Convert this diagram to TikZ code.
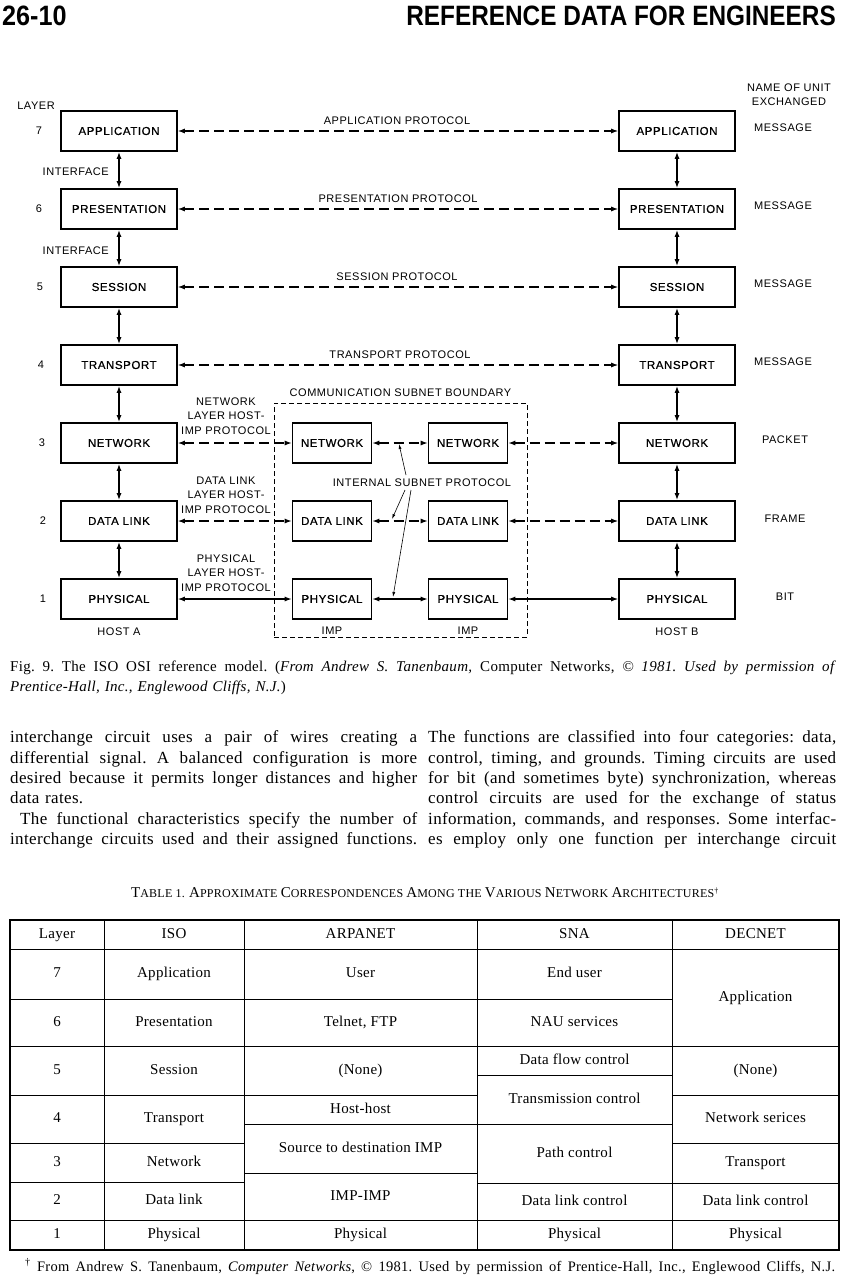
\documentclass[tikz,border=0pt]{standalone}
\usepackage{fontspec}
\setmainfont{Liberation Serif}[LetterSpace=2]
\newfontfamily\hdfont{Liberation Sans}
\newfontfamily\dgfont{Liberation Sans}[LetterSpace=5]
\newfontfamily\bxfont{Liberation Sans}[LetterSpace=5, FakeBold=0.6]
\usetikzlibrary{positioning,arrows.meta}

\newcommand{\bigc}[1]{{\fontsize{15}{15}\selectfont #1}}
\newcommand{\fullline}[2]{\makebox[#1][s]{\spaceskip=0pt\xspaceskip=0pt\frenchspacing #2}}

\begin{document}
\begin{tikzpicture}[x=1pt, y=-1pt,
  layer/.style={draw, line width=1.6pt, minimum width=116pt, minimum height=40pt, inner sep=0pt,
                font=\bxfont\fontsize{11.5}{13}\selectfont},
  imp/.style={layer, minimum width=79pt},
  lbl/.style={font=\dgfont\fontsize{11}{14.5}\selectfont, inner sep=0pt},
  proto/.style={{Latex[length=7pt,width=5pt]}-{Latex[length=7pt,width=5pt]}, line width=1.2pt,
                dash pattern=on 10pt off 5pt},
  wire/.style={{Latex[length=7pt,width=5pt]}-{Latex[length=7pt,width=5pt]}, line width=1.2pt},
  iface/.style={{Latex[length=7pt,width=5pt]}-{Latex[length=7pt,width=5pt]}, line width=1.5pt},
  ptr/.style={-{Latex[length=5pt,width=3pt]}, line width=0.6pt},
  cell/.style={font=\fontsize{15}{17}\selectfont, inner sep=0pt, text height=10pt, text depth=3pt},
  rule/.style={line width=1pt}
]
  \fill[white] (0,0) rectangle (845,1276);
  \useasboundingbox (0,0) rectangle (845,1276);

  % running head
  \node[anchor=base west, inner sep=0pt, font=\hdfont\bfseries\fontsize{28}{28}\selectfont] (pgno) at (2,26) {\scalebox{0.9}[1]{26-10}};
  \node[anchor=base east, inner sep=0pt, font=\hdfont\bfseries\fontsize{28}{28}\selectfont] (runhd) at (836,26) {\scalebox{0.87}[1]{REFERENCE DATA FOR ENGINEERS}};

  % subnet boundary
  \node[draw, line width=0.6pt, dash pattern=on 5pt off 3pt, minimum width=253pt, minimum height=234pt] (subnet) at (400.5,520) {};
  \node[lbl, above=6pt of subnet] (sublbl) {COMMUNICATION SUBNET BOUNDARY};

  % host A
  \node[layer] (hA7) at (119,131) {APPLICATION};
  \node[layer] (hA6) at (119,209) {PRESENTATION};
  \node[layer] (hA5) at (119,287) {SESSION};
  \node[layer] (hA4) at (119,365) {TRANSPORT};
  \node[layer] (hA3) at (119,443) {NETWORK};
  \node[layer] (hA2) at (119,521) {DATA LINK};
  \node[layer] (hA1) at (119,599) {PHYSICAL};
  \node[lbl, below=8pt of hA1] (hostA) {HOST A};

  % host B
  \node[layer] (hB7) at (677,131) {APPLICATION};
  \node[layer] (hB6) at (677,209) {PRESENTATION};
  \node[layer] (hB5) at (677,287) {SESSION};
  \node[layer] (hB4) at (677,365) {TRANSPORT};
  \node[layer] (hB3) at (677,443) {NETWORK};
  \node[layer] (hB2) at (677,521) {DATA LINK};
  \node[layer] (hB1) at (677,599) {PHYSICAL};
  \node[lbl, below=8pt of hB1] (hostB) {HOST B};

  % IMPs
  \node[imp] (iA3) at (332,443) {NETWORK};
  \node[imp] (iA2) at (332,521) {DATA LINK};
  \node[imp] (iA1) at (332,599) {PHYSICAL};
  \node[imp] (iB3) at (468,443) {NETWORK};
  \node[imp] (iB2) at (468,521) {DATA LINK};
  \node[imp] (iB1) at (468,599) {PHYSICAL};
  \node[lbl, below=7pt of iA1] (impA) {IMP};
  \node[lbl, below=7pt of iB1] (impB) {IMP};

  % interfaces
  \draw[iface] (hA7) -- (hA6);
  \draw[iface] (hA6) -- (hA5);
  \draw[iface] (hA5) -- (hA4);
  \draw[iface] (hA4) -- (hA3);
  \draw[iface] (hA3) -- (hA2);
  \draw[iface] (hA2) -- (hA1);
  \draw[iface] (hB7) -- (hB6);
  \draw[iface] (hB6) -- (hB5);
  \draw[iface] (hB5) -- (hB4);
  \draw[iface] (hB4) -- (hB3);
  \draw[iface] (hB3) -- (hB2);
  \draw[iface] (hB2) -- (hB1);

  % peer protocols
  \draw[proto] (hA7) -- (hB7);
  \draw[proto] (hA6) -- (hB6);
  \draw[proto] (hA5) -- (hB5);
  \draw[proto] (hA4) -- (hB4);
  \draw[proto] (hA3) -- (iA3);
  \draw[proto] (iA3) -- (iB3);
  \draw[proto] (iB3) -- (hB3);
  \draw[proto] (hA2) -- (iA2);
  \draw[proto] (iA2) -- (iB2);
  \draw[proto] (iB2) -- (hB2);
  \draw[wire] (hA1) -- (iA1);
  \draw[wire] (iA1) -- (iB1);
  \draw[wire] (iB1) -- (hB1);

  \node[lbl] (papp) at (397,121) {APPLICATION PROTOCOL};
  \node[lbl] (ppre) at (398,199) {PRESENTATION PROTOCOL};
  \node[lbl] (pses) at (397,277) {SESSION PROTOCOL};
  \node[lbl] (ptra) at (400,355) {TRANSPORT PROTOCOL};
  \node[lbl, align=center] (pnet) at (226,416) {NETWORK\\LAYER HOST-\\IMP PROTOCOL};
  \node[lbl, align=center] (pdl) at (226,495) {DATA LINK\\LAYER HOST-\\IMP PROTOCOL};
  \node[lbl, align=center] (pphy) at (226,573) {PHYSICAL\\LAYER HOST-\\IMP PROTOCOL};

  % internal subnet protocol
  \node[lbl] (isp) at (422,483) {INTERNAL SUBNET PROTOCOL};
  \coordinate (ispN) at (406,475);
  \coordinate (ispD) at (405,490);
  \coordinate (ispP) at (411,490);
  \coordinate (tipN) at (399,444);
  \coordinate (tipD) at (392,519);
  \coordinate (tipP) at (393,597);
  \draw[ptr] (ispN) -- (tipN);
  \draw[ptr] (ispD) -- (tipD);
  \draw[ptr] (ispP) -- (tipP);

  % layer numbers
  \node[lbl] (laylbl) at (36,106) {LAYER};
  \node[lbl] (n7) at (39,131) {7};
  \node[lbl] (n6) at (39,209) {6};
  \node[lbl] (n5) at (40,287) {5};
  \node[lbl] (n4) at (41,365) {4};
  \node[lbl] (n3) at (42,443) {3};
  \node[lbl] (n2) at (43,521) {2};
  \node[lbl] (n1) at (43,599) {1};
  \node[lbl, anchor=east] (if76) at (109,172) {INTERFACE};
  \node[lbl, anchor=east] (if65) at (109,251) {INTERFACE};

  % units
  \node[lbl, align=center] (unithd) at (789,94.5) {NAME OF UNIT\\EXCHANGED};
  \node[lbl] (u7) at (783,128) {MESSAGE};
  \node[lbl] (u6) at (783,206) {MESSAGE};
  \node[lbl] (u5) at (783,284) {MESSAGE};
  \node[lbl] (u4) at (783,362) {MESSAGE};
  \node[lbl] (u3) at (785,440) {PACKET};
  \node[lbl] (u2) at (785,519) {FRAME};
  \node[lbl] (u1) at (785,597) {BIT};

  % caption
  \node[anchor=north west, inner sep=0pt, text width=826pt, font=\fontsize{15}{20}\selectfont] (cap) at (10,661)
    {\noindent\fullline{826pt}{Fig. 9. The ISO OSI reference model. (\textit{From Andrew S. Tanenbaum,} Computer Networks, \textit{© 1981. Used by permission of}}\\
     \textit{Prentice-Hall, Inc., Englewood Cliffs, N.J.})};

  % text columns
  \node[anchor=north west, inner sep=0pt, text width=407pt, font=\fontsize{17}{20.4}\selectfont] (colL) at (10,730.5)
    {\noindent\fullline{407pt}{interchange circuit uses a pair of wires creating a}\\
     \fullline{407pt}{differential signal. A balanced configuration is more}\\
     \fullline{407pt}{desired because it permits longer distances and higher}\\
     data rates.\\
     \hspace*{10pt}\fullline{397pt}{The functional characteristics specify the number of}\\
     \fullline{407pt}{interchange circuits used and their assigned functions.}};
  \node[anchor=north west, inner sep=0pt, text width=408pt, font=\fontsize{17}{20.4}\selectfont] (colR) at (428,730.5)
    {\noindent\fullline{408pt}{The functions are classified into four categories: data,}\\
     \fullline{408pt}{control, timing, and grounds. Timing circuits are used}\\
     \fullline{408pt}{for bit (and sometimes byte) synchronization, whereas}\\
     \fullline{408pt}{control circuits are used for the exchange of status}\\
     \fullline{408pt}{information, commands, and responses. Some interfac-}\\
     \fullline{408pt}{es employ only one function per interchange circuit}};

  % table
  \node[inner sep=0pt, font=\fontsize{12}{12}\selectfont] (tabttl) at (425,893)
    {\bigc{T}ABLE 1. \bigc{A}PPROXIMATE \bigc{C}ORRESPONDENCES \bigc{A}MONG THE \bigc{V}ARIOUS \bigc{N}ETWORK \bigc{A}RCHITECTURES\textsuperscript{†}};

  \draw[line width=1.6pt] (10,920) rectangle (839,1250);
  \draw[rule] (104,920) -- (104,1250);
  \draw[rule] (244,920) -- (244,1250);
  \draw[rule] (477,920) -- (477,1250);
  \draw[rule] (672,920) -- (672,1250);
  \draw[rule] (10,949) -- (839,949);
  \draw[rule] (10,999) -- (672,999);
  \draw[rule] (10,1046) -- (839,1046);
  \draw[rule] (477,1075) -- (672,1075);
  \draw[rule] (10,1095) -- (477,1095);
  \draw[rule] (672,1095) -- (839,1095);
  \draw[rule] (244,1124.5) -- (672,1124.5);
  \draw[rule] (10,1143) -- (244,1143);
  \draw[rule] (672,1143) -- (839,1143);
  \draw[rule] (244,1173) -- (477,1173);
  \draw[rule] (10,1182) -- (244,1182);
  \draw[rule] (477,1183) -- (839,1183);
  \draw[rule] (10,1220) -- (839,1220);

  \node[cell] (hdL) at (57,934.5) {Layer};
  \node[cell] (hdI) at (174,934.5) {ISO};
  \node[cell] (hdA) at (360.5,934.5) {ARPANET};
  \node[cell] (hdS) at (574.5,934.5) {SNA};
  \node[cell] (hdD) at (755.5,934.5) {DECNET};

  \node[cell] (l7) at (57,974) {7};
  \node[cell] (l6) at (57,1022.5) {6};
  \node[cell] (l5) at (57,1070.5) {5};
  \node[cell] (l4) at (57,1119) {4};
  \node[cell] (l3) at (57,1162.5) {3};
  \node[cell] (l2) at (57,1201) {2};
  \node[cell] (l1) at (57,1235) {1};

  \node[cell] (iso7) at (174,974) {Application};
  \node[cell] (iso6) at (174,1022.5) {Presentation};
  \node[cell] (iso5) at (174,1070.5) {Session};
  \node[cell] (iso4) at (174,1119) {Transport};
  \node[cell] (iso3) at (174,1162.5) {Network};
  \node[cell] (iso2) at (174,1201) {Data link};
  \node[cell] (iso1) at (174,1235) {Physical};

  \node[cell] (arp7) at (360.5,974) {User};
  \node[cell] (arp6) at (360.5,1022.5) {Telnet, FTP};
  \node[cell] (arp5) at (360.5,1070.5) {(None)};
  \node[cell] (arp4) at (360.5,1110) {Host-host};
  \node[cell] (arp3) at (360.5,1149) {Source to destination IMP};
  \node[cell] (arp2) at (360.5,1196.5) {IMP-IMP};
  \node[cell] (arp1) at (360.5,1235) {Physical};

  \node[cell] (sna7) at (574.5,974) {End user};
  \node[cell] (sna6) at (574.5,1022.5) {NAU services};
  \node[cell] (sna5) at (574.5,1060.5) {Data flow control};
  \node[cell] (sna4) at (574.5,1099.5) {Transmission control};
  \node[cell] (sna3) at (574.5,1153.5) {Path control};
  \node[cell] (sna2) at (574.5,1201.5) {Data link control};
  \node[cell] (sna1) at (574.5,1235) {Physical};

  \node[cell] (dec7) at (755.5,997.5) {Application};
  \node[cell] (dec5) at (755.5,1070.5) {(None)};
  \node[cell] (dec4) at (755.5,1119) {Network serices};
  \node[cell] (dec3) at (755.5,1163) {Transport};
  \node[cell] (dec2) at (755.5,1201.5) {Data link control};
  \node[cell] (dec1) at (755.5,1235) {Physical};

  % footnote
  \node[anchor=base west, inner sep=0pt, font=\fontsize{14.5}{16}\selectfont] (fnote) at (25,1271)
    {\fullline{810pt}{\textsuperscript{†} From Andrew S. Tanenbaum, \textit{Computer Networks}, © 1981. Used by permission of Prentice-Hall, Inc., Englewood Cliffs, N.J.}};
\end{tikzpicture}
\end{document}
